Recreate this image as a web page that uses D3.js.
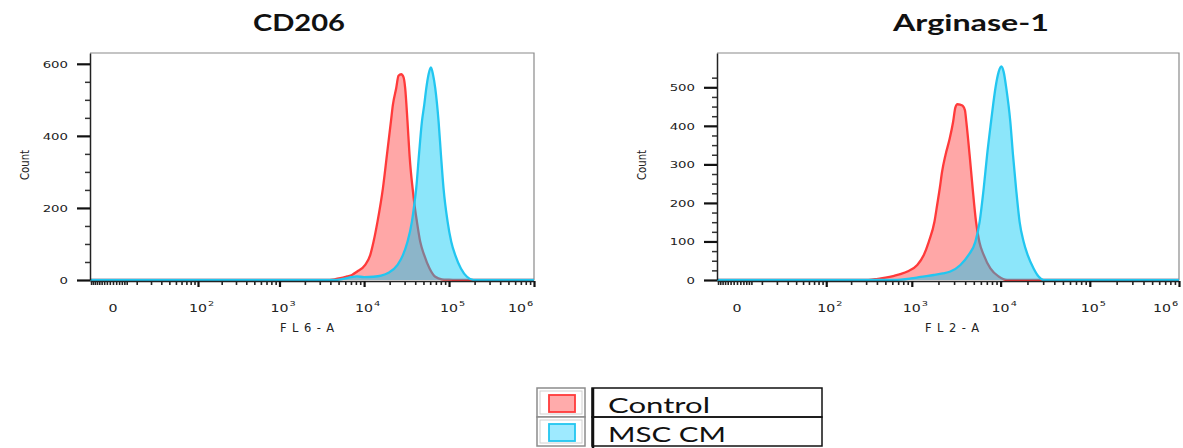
<!DOCTYPE html>
<html>
<head>
<meta charset="utf-8">
<script src="https://cdn.jsdelivr.net/npm/d3@7/dist/d3.min.js"></script>
<style>
  body { margin: 0; background: #fff; }
  svg { display: block; }
</style>
</head>
<body>
<svg id="chart" width="1183" height="448"></svg>
<script>
// ---- data (x values are log10 of intensity) ----
const panelTitles = ["CD206", "Arginase-1"];
const xAxisTitles = ["FL6-A", "FL2-A"];
const yAxisTitle = "Count";
const legendLabels = ["Control", "MSC CM"];
const xDecades = [2, 3, 4, 5, 6];
const cd206YTicks = [0, 200, 400, 600];
const arg1YTicks = [0, 100, 200, 300, 400, 500];

const cd206ControlLog = [3.55, 3.65, 3.72, 3.80, 3.857, 3.915, 4.013, 4.072, 4.111, 4.158, 4.222, 4.269, 4.316, 4.339, 4.378, 4.405, 4.437, 4.464, 4.484, 4.511, 4.535, 4.551, 4.571, 4.594, 4.622, 4.661, 4.708, 4.771, 4.838, 4.916, 5.0, 5.15];
const cd206ControlCount = [0, 2, 5, 10, 14, 23, 42, 69, 106, 162, 255, 347, 440, 486, 532, 567, 571, 563, 532, 440, 347, 300, 255, 208, 162, 106, 69, 32, 9, 2, 1, 0];
const cd206MscLog = [3.64, 3.75, 3.85, 3.915, 4.0, 4.111, 4.2, 4.288, 4.394, 4.457, 4.511, 4.563, 4.590, 4.614, 4.646, 4.681, 4.708, 4.732, 4.76, 4.787, 4.81, 4.838, 4.877, 4.905, 4.935, 4.983, 5.026, 5.073, 5.14, 5.211, 5.289];
const cd206MscCount = [0, 3, 8, 10, 8, 9, 12, 20, 42, 69, 106, 162, 208, 255, 347, 440, 486, 532, 572, 590, 572, 532, 440, 347, 255, 162, 106, 69, 32, 9, 0];

const arg1ControlLog = [2.5, 2.613, 2.70, 2.80, 2.88, 2.95, 3.062, 3.136, 3.192, 3.256, 3.286, 3.316, 3.342, 3.380, 3.428, 3.466, 3.492, 3.515, 3.545, 3.575, 3.60, 3.615, 3.652, 3.686, 3.724, 3.761, 3.81, 3.885, 3.978, 4.072];
const arg1ControlCount = [0, 3, 6, 11, 16, 22, 39, 65, 99, 151, 194, 238, 281, 324, 367, 410, 448, 456, 455, 452, 440, 410, 324, 238, 151, 99, 65, 30, 9, 0];
const arg1MscLog = [2.80, 2.99, 3.10, 3.248, 3.35, 3.435, 3.548, 3.641, 3.716, 3.764, 3.81, 3.848, 3.892, 3.915, 3.941, 3.978, 4.008, 4.034, 4.064, 4.109, 4.139, 4.173, 4.213, 4.258, 4.303, 4.37, 4.426, 4.483];
const arg1MscCount = [0, 4, 8, 13, 17, 22, 39, 65, 99, 151, 238, 324, 410, 453, 497, 540, 554, 540, 497, 410, 324, 238, 151, 99, 65, 30, 9, 0];

// ---- styling ----
const colors = {
  control: { fill: "rgba(255,60,60,0.45)", stroke: "#ff3a3a", swatch: "#ffabab" },
  msc: { fill: "rgba(0,200,245,0.45)", stroke: "#22c6f0", swatch: "#9eeaff" }
};
const axisFont = "'DejaVu Sans', sans-serif";

const layout = [
  { left: 90, right: 534, top: 53, bottom: 280, xMin: -9.6, yMax: 630, minorStep: 50, minorMax: 550,
    titleX: 299, titleW: 92, xTitleX: 307, countX: 29 },
  { left: 717, right: 1179, top: 53, bottom: 280, xMin: -7.5, yMax: 589, minorStep: 25, minorMax: 525,
    titleX: 971, titleW: 156, xTitleX: 952, countX: 646 }
];

const svg = d3.select("#chart");

function drawPanel(L, title, xTitle, yTicks, series) {
  const g = svg.append("g");
  const x = d3.scaleSymlog().constant(11.1).domain([L.xMin, 1e6]).range([L.left, L.right]);
  const y = d3.scaleLinear().domain([0, L.yMax]).range([L.bottom, L.top]);

  // frame (top + right grey)
  g.append("path")
    .attr("d", `M${L.left},${L.top}H${L.right}V${L.bottom}`)
    .attr("fill", "none").attr("stroke", "#8a8a8a").attr("stroke-width", 1.2);

  // histograms
  series.forEach(s => {
    const pts = [[L.xMin, 0]]
      .concat(s.log.map((d, i) => [Math.pow(10, d), s.count[i]]))
      .concat([[1e6, 0]]);
    const area = d3.area()
      .x(d => x(d[0])).y0(y(0)).y1(d => y(d[1]))
      .curve(d3.curveMonotoneX);
    const line = d3.line()
      .x(d => x(d[0])).y(d => y(d[1]))
      .curve(d3.curveMonotoneX);
    g.append("path").datum(pts).attr("d", area).attr("fill", s.color.fill);
    g.append("path").datum(pts).attr("d", line)
      .attr("fill", "none").attr("stroke", s.color.stroke).attr("stroke-width", 2.3);
  });

  // y axis
  const minors = d3.range(L.minorStep, L.minorMax + 1, L.minorStep).filter(v => !yTicks.includes(v));
  const yMinor = g.append("g").attr("transform", `translate(${L.left},0)`)
    .call(d3.axisLeft(y).tickValues(minors).tickSize(5).tickSizeOuter(0).tickFormat(""));
  yMinor.select(".domain").remove();
  yMinor.selectAll("line").attr("stroke", "#333").attr("stroke-width", 1.5);

  const yAx = g.append("g").attr("transform", `translate(${L.left},0)`)
    .call(d3.axisLeft(y).tickValues(yTicks).tickSize(13).tickSizeOuter(0).tickFormat(d3.format("d")));
  yAx.select(".domain").attr("stroke", "#222").attr("stroke-width", 1.5);
  yAx.selectAll("line").attr("stroke", "#111").attr("stroke-width", 2.2);
  yAx.selectAll("text")
    .attr("x", 0).attr("dy", "0.35em")
    .attr("transform", "translate(-22,0) scale(1.4,1)")
    .style("font-family", axisFont).style("font-size", "9.5px")
    .attr("fill", "#222").attr("text-anchor", "end");

  // x axis
  const xMinor = [];
  for (let v = Math.ceil(L.xMin); v <= 5; v++) xMinor.push(v);
  for (let v = 10; v < 100; v += 10) xMinor.push(v);
  for (let p = 2; p < 6; p++) for (let k = 2; k < 10; k++) xMinor.push(k * Math.pow(10, p));

  const xm = g.append("g").attr("transform", `translate(0,${L.bottom + 1})`)
    .call(d3.axisBottom(x).tickValues(xMinor).tickSize(4).tickSizeOuter(0).tickFormat(""));
  xm.select(".domain").remove();
  xm.selectAll("line").attr("stroke", "#222").attr("stroke-width", 1.6);

  const xM = g.append("g").attr("transform", `translate(0,${L.bottom + 1})`)
    .call(d3.axisBottom(x).tickValues(xDecades.map(p => Math.pow(10, p))).tickSize(6).tickSizeOuter(0).tickFormat(""));
  xM.select(".domain").attr("stroke", "#222").attr("stroke-width", 1.5);
  xM.selectAll("line").attr("stroke", "#111").attr("stroke-width", 2.2);

  // x tick labels: 0 and 10^n (the last one sits left of its tick, inside the frame)
  const lab = g.append("g").style("font-family", axisFont).attr("fill", "#222");
  lab.append("text")
    .attr("transform", `translate(${x(0)},312) scale(1.35,1)`)
    .attr("text-anchor", "middle").style("font-size", "10.5px").text("0");
  xDecades.forEach((p, i) => {
    const last = i === xDecades.length - 1;
    const px = x(Math.pow(10, p)) - (last ? 17 : 0);
    lab.append("text")
      .attr("transform", `translate(${px},312) scale(1.35,1)`)
      .attr("text-anchor", "middle").style("font-size", "10.5px").text("10");
    lab.append("text")
      .attr("transform", `translate(${px + 10},306) scale(1.3,1)`)
      .attr("text-anchor", "start").style("font-size", "7.5px").text(p);
  });

  // axis titles
  g.append("text")
    .attr("x", L.xTitleX).attr("y", 332)
    .attr("text-anchor", "middle")
    .attr("textLength", 54).attr("lengthAdjust", "spacing")
    .style("font-family", axisFont).style("font-size", "11.5px").attr("fill", "#222")
    .text(xTitle);

  g.append("text")
    .attr("transform", `translate(${L.countX},165) rotate(-90)`)
    .attr("text-anchor", "middle")
    .attr("textLength", 30).attr("lengthAdjust", "spacingAndGlyphs")
    .style("font-family", axisFont).style("font-size", "12px").attr("fill", "#222")
    .text(yAxisTitle);

  // panel title
  g.append("text")
    .attr("x", L.titleX).attr("y", 31)
    .attr("text-anchor", "middle")
    .attr("textLength", L.titleW).attr("lengthAdjust", "spacingAndGlyphs")
    .style("font-family", "Lato, 'Open Sans', sans-serif").style("font-weight", "bold")
    .style("font-size", "23px").attr("fill", "#111")
    .text(title);
}

drawPanel(layout[0], panelTitles[0], xAxisTitles[0], cd206YTicks, [
  { log: cd206ControlLog, count: cd206ControlCount, color: colors.control },
  { log: cd206MscLog, count: cd206MscCount, color: colors.msc }
]);
drawPanel(layout[1], panelTitles[1], xAxisTitles[1], arg1YTicks, [
  { log: arg1ControlLog, count: arg1ControlCount, color: colors.control },
  { log: arg1MscLog, count: arg1MscCount, color: colors.msc }
]);

// ---- legend (table style) ----
const lg = svg.append("g");
const rowTop = [388, 417];
const rowH = 29;
const legendColors = [colors.control, colors.msc];
const textW = [102, 118];
legendLabels.forEach((name, i) => {
  const y0 = rowTop[i];
  lg.append("rect").attr("x", 537).attr("y", y0).attr("width", 48).attr("height", rowH)
    .attr("fill", "#fff").attr("stroke", "#8c8c8c").attr("stroke-width", 1.5);
  lg.append("rect").attr("x", 540).attr("y", y0 + 3).attr("width", 42).attr("height", rowH - 6)
    .attr("fill", "none").attr("stroke", "#d0d0d0").attr("stroke-width", 1);
  lg.append("rect").attr("x", 549).attr("y", y0 + 7).attr("width", 26).attr("height", 17)
    .attr("fill", legendColors[i].swatch).attr("stroke", legendColors[i].stroke).attr("stroke-width", 1.8);
  lg.append("rect").attr("x", 592).attr("y", y0).attr("width", 230).attr("height", rowH)
    .attr("fill", "none").attr("stroke", "#111").attr("stroke-width", 1.5);
  lg.append("text").attr("x", 608).attr("y", y0 + 25)
    .attr("textLength", textW[i]).attr("lengthAdjust", "spacingAndGlyphs")
    .style("font-family", "Lato, 'Open Sans', sans-serif").style("font-size", "21px")
    .attr("fill", "#111").text(name);
});
lg.append("line").attr("x1", 593).attr("x2", 593).attr("y1", 388).attr("y2", 448)
  .attr("stroke", "#111").attr("stroke-width", 2.5);
</script>
</body>
</html>
